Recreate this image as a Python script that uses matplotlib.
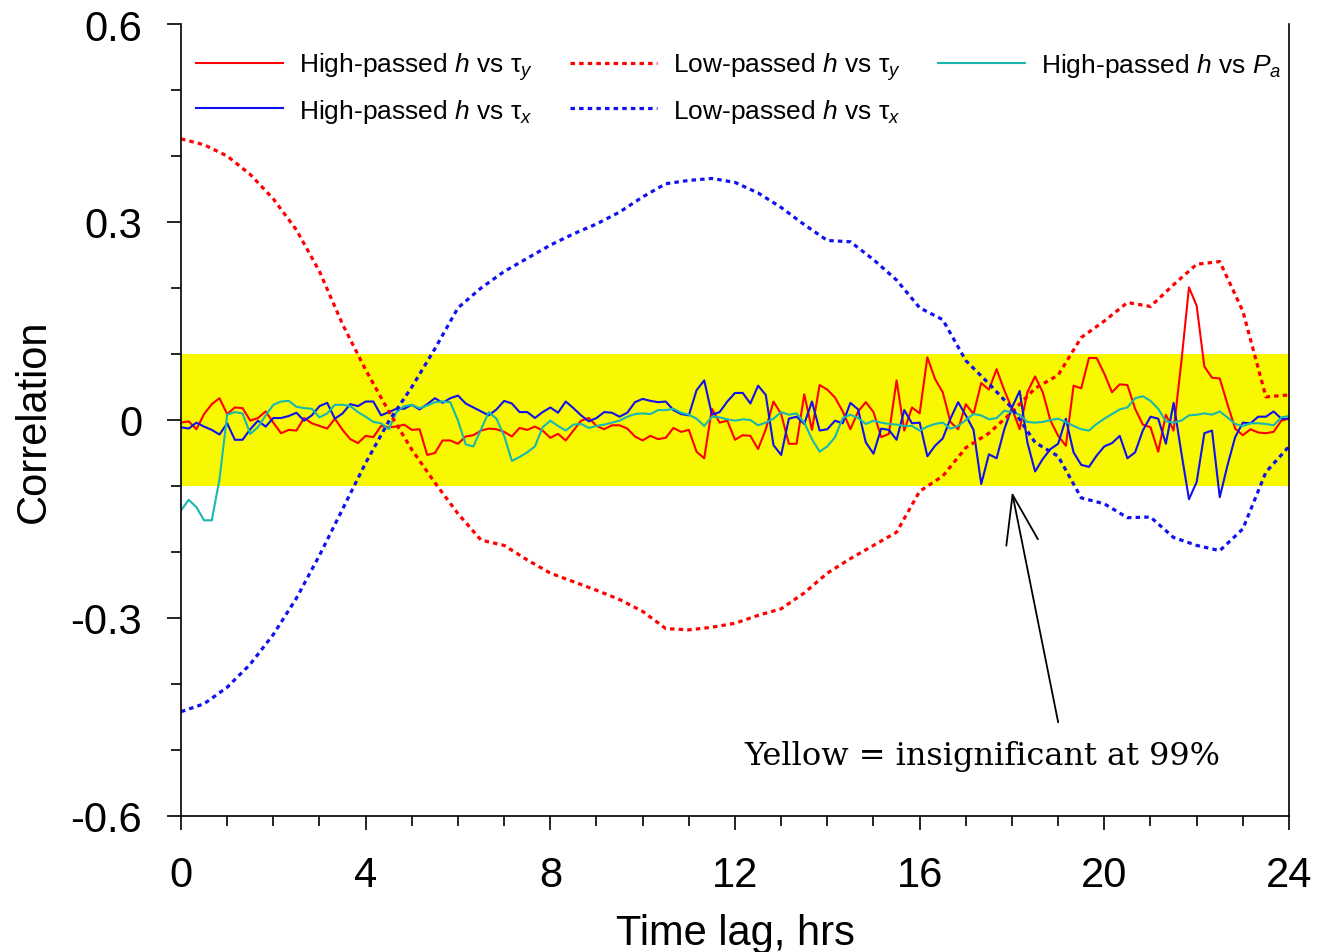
import numpy as np
import matplotlib
matplotlib.use("Agg")
import matplotlib.pyplot as plt
from matplotlib.ticker import FixedLocator, MultipleLocator

plt.rcParams['font.family'] = ['Liberation Sans', 'DejaVu Sans']
plt.rcParams['mathtext.fontset'] = 'custom'
plt.rcParams['mathtext.rm'] = 'Liberation Sans'
plt.rcParams['mathtext.it'] = 'Liberation Sans:italic'

# high-passed series, one value every 10 min (1/6 hr) from 0 to 24 hrs
hp_ty = [-0.004, -0.002, -0.014, 0.009, 0.024, 0.033, 0.009, 0.019, 0.018, -0.001, 0.003, 0.013, -0.004,
         -0.020, -0.015, -0.016, 0.003, -0.005, -0.009, -0.013, 0.002, -0.015, -0.029, -0.035, -0.024,
         -0.026, -0.009, -0.011, -0.010, -0.007, -0.015, -0.014, -0.053, -0.050, -0.031, -0.031, -0.036,
         -0.025, -0.023, -0.016, -0.013, -0.014, -0.018, -0.025, -0.012, -0.015, -0.010, -0.016, -0.027,
         -0.021, -0.031, -0.016, -0.001, 0.003, -0.009, -0.014, -0.008, -0.008, -0.013, -0.025, -0.031,
         -0.024, -0.029, -0.027, -0.012, -0.018, -0.015, -0.048, -0.058, 0.017, -0.004, -0.001, -0.030,
         -0.023, -0.024, -0.044, -0.014, 0.028, 0.009, -0.036, -0.036, 0.039, -0.015, 0.053, 0.046,
         0.034, 0.013, -0.014, 0.013, 0.027, 0.012, -0.026, -0.021, 0.060, -0.016, 0.019, 0.010,
         0.095, 0.062, 0.042, -0.003, -0.014, 0.024, 0.009, 0.056, 0.046, 0.077, 0.045, 0.017,
         -0.014, 0.042, 0.066, 0.042, -0.001, -0.024, -0.039, 0.052, 0.048, 0.094, 0.094, 0.070,
         0.042, 0.054, 0.053, 0.017, -0.007, -0.011, -0.048, 0.008, -0.016, 0.087, 0.201, 0.173,
         0.081, 0.064, 0.063, 0.024, -0.013, -0.023, -0.014, -0.019, -0.020, -0.018, -0.001, 0.002]

hp_tx = [-0.011, -0.013, -0.004, -0.010, -0.015, -0.022, -0.005, -0.030, -0.030, -0.014, -0.001, -0.010, 0.003,
         0.003, 0.006, 0.011, -0.001, 0.007, 0.021, 0.026, 0.002, 0.010, 0.024, 0.021, 0.028,
         0.028, 0.007, 0.012, 0.017, 0.017, 0.023, 0.016, 0.024, 0.033, 0.026, 0.033, 0.037,
         0.025, 0.019, 0.013, 0.007, 0.016, 0.029, 0.025, 0.012, 0.012, 0.003, 0.012, 0.019,
         0.011, 0.028, 0.018, 0.007, -0.002, 0.003, 0.012, 0.011, 0.005, 0.011, 0.027, 0.032,
         0.029, 0.027, 0.028, 0.015, 0.009, 0.007, 0.045, 0.060, 0.008, 0.012, 0.028, 0.041,
         0.041, 0.025, 0.052, 0.038, -0.038, -0.053, 0.002, 0.005, -0.006, 0.028, -0.016, -0.014,
         -0.001, -0.005, 0.026, 0.016, -0.034, -0.051, -0.013, -0.015, -0.030, 0.015, -0.005, -0.004,
         -0.055, -0.039, -0.028, 0.002, 0.027, 0.007, -0.015, -0.097, -0.052, -0.058, -0.014, 0.019,
         0.044, -0.034, -0.078, -0.059, -0.044, -0.036, 0.002, -0.049, -0.068, -0.071, -0.054, -0.040,
         -0.035, -0.024, -0.058, -0.049, -0.016, 0.005, 0.002, -0.036, 0.026, -0.049, -0.120, -0.094,
         -0.020, -0.016, -0.117, -0.069, -0.026, -0.004, -0.005, 0.005, 0.005, 0.013, 0.002, 0.002]

hp_pa = [-0.137, -0.121, -0.132, -0.152, -0.152, -0.090, 0.008, 0.012, 0.010, -0.021, -0.011, 0.007, 0.023,
         0.028, 0.029, 0.020, 0.018, 0.017, 0.004, 0.010, 0.023, 0.023, 0.021, 0.012, 0.005,
         -0.003, -0.005, -0.014, 0.012, 0.021, 0.023, 0.018, 0.022, 0.027, 0.028, 0.027, -0.001,
         -0.037, -0.040, -0.014, 0.012, 0.002, -0.024, -0.062, -0.056, -0.049, -0.040, -0.011, -0.001,
         -0.009, -0.016, -0.007, -0.006, -0.012, -0.009, -0.007, -0.004, -0.001, 0.005, 0.009, 0.010,
         0.009, 0.015, 0.015, 0.017, 0.011, 0.008, 0.002, -0.009, 0.005, 0.004, 0.001, -0.001,
         0.001, 0.000, -0.008, -0.004, 0.002, 0.012, 0.008, 0.010, -0.004, -0.029, -0.048, -0.040,
         -0.026, 0.003, 0.008, 0.003, -0.006, -0.001, -0.004, -0.006, -0.007, -0.009, -0.009, -0.016,
         -0.010, -0.006, -0.004, -0.013, -0.009, 0.000, 0.009, 0.007, 0.001, 0.003, 0.014, 0.012,
         0.008, -0.003, -0.004, -0.003, 0.000, 0.002, -0.003, -0.009, -0.014, -0.016, -0.006, 0.002,
         0.009, 0.016, 0.019, 0.033, 0.036, 0.029, 0.017, -0.002, -0.004, -0.001, 0.007, 0.008,
         0.010, 0.008, 0.013, 0.004, -0.006, -0.009, -0.005, -0.005, -0.006, -0.008, 0.004, 0.006]

# low-passed series, read every half hour
lp_ty = [0.426, 0.417, 0.400, 0.372, 0.335, 0.288, 0.225, 0.145, 0.076, 0.013, -0.045, -0.095, -0.142,
         -0.182, -0.190, -0.212, -0.232, -0.245, -0.258, -0.272, -0.290, -0.316, -0.318, -0.314, -0.308,
         -0.296, -0.286, -0.262, -0.232, -0.210, -0.190, -0.170, -0.108, -0.085, -0.042, -0.020, 0.012,
         0.048, 0.068, 0.125, 0.150, 0.178, 0.172, 0.205, 0.236, 0.240, 0.165, 0.035, 0.038]

lp_tx = [-0.442, -0.430, -0.405, -0.370, -0.325, -0.270, -0.205, -0.135, -0.065, -0.002, 0.050, 0.108, 0.170,
         0.200, 0.225, 0.245, 0.265, 0.282, 0.297, 0.315, 0.338, 0.358, 0.363, 0.366, 0.360,
         0.344, 0.322, 0.296, 0.272, 0.270, 0.243, 0.212, 0.170, 0.152, 0.090, 0.055, 0.018,
         -0.034, -0.055, -0.118, -0.127, -0.148, -0.147, -0.178, -0.190, -0.198, -0.165, -0.079, -0.040]

t_hp = np.arange(len(hp_ty)) / 6.0
t_lp = np.arange(len(lp_ty)) / 2.0

fig = plt.figure(figsize=(13.18, 9.53), dpi=100)
ax = fig.add_axes([181/1318, 136/953, 1108/1318, 792/953])

ax.axhspan(-0.1, 0.1, color='#f8f800', lw=0, zorder=0)

red = '#ff0000'
blue = '#1010f0'
cyan = '#18b8b0'
dots = (0, (1.4, 1.3))

l1, = ax.plot(t_hp, hp_ty, color=red, lw=1.5, label='High-passed $h$ vs τ$_y$')
l2, = ax.plot(t_hp, hp_tx, color=blue, lw=1.5, label='High-passed $h$ vs τ$_x$')
l5, = ax.plot(t_hp, hp_pa, color=cyan, lw=1.5, label='High-passed $h$ vs $P_a$')
l3, = ax.plot(t_lp, lp_ty, color=red, lw=2.3, ls=dots, label='Low-passed $h$ vs τ$_y$')
l4, = ax.plot(t_lp, lp_tx, color=blue, lw=2.3, ls=dots, label='Low-passed $h$ vs τ$_x$')

ax.set_xlim(0, 24)
ax.set_ylim(-0.6, 0.6)
ax.xaxis.set_major_locator(FixedLocator([0, 4, 8, 12, 16, 20, 24]))
ax.xaxis.set_minor_locator(MultipleLocator(1))
ax.yaxis.set_major_locator(FixedLocator([-0.6, -0.3, 0, 0.3, 0.6]))
ax.yaxis.set_minor_locator(MultipleLocator(0.1))
ax.set_yticklabels(['-0.6', '-0.3', '0', '0.3', '0.6'])
ax.tick_params(which='both', direction='out', width=1.2, labelsize=30, top=False, right=False)
ax.tick_params(which='major', length=10, pad=18)
ax.tick_params(which='minor', length=7)
ax.spines['top'].set_visible(False)
for s in ['left', 'bottom', 'right']:
    ax.spines[s].set_linewidth(1.2)

ax.set_xlabel('Time lag, hrs', fontsize=30, labelpad=13)
ax.set_ylabel('Correlation', fontsize=30, labelpad=12)

ax.legend(handles=[l1, l2, l3, l4, l5], ncol=3, loc='upper left', bbox_to_anchor=(-0.0076, 0.9967),
          frameon=False, fontsize=19, handlelength=3.3, handletextpad=0.6, columnspacing=1.4,
          labelspacing=0.55, borderaxespad=0.5)

ax.annotate('', xy=(18.0, -0.109), xytext=(19.0, -0.458),
            arrowprops=dict(arrowstyle='->,head_length=1.75,head_width=0.58', lw=1.3,
                            color='black', shrinkA=0, shrinkB=0, mutation_scale=20))
ax.text(12.2, -0.521, 'Yellow = insignificant at 99%', fontsize=23,
        family=['DejaVu Serif'], ha='left', va='baseline')

fig.savefig('out.png', dpi=100)
